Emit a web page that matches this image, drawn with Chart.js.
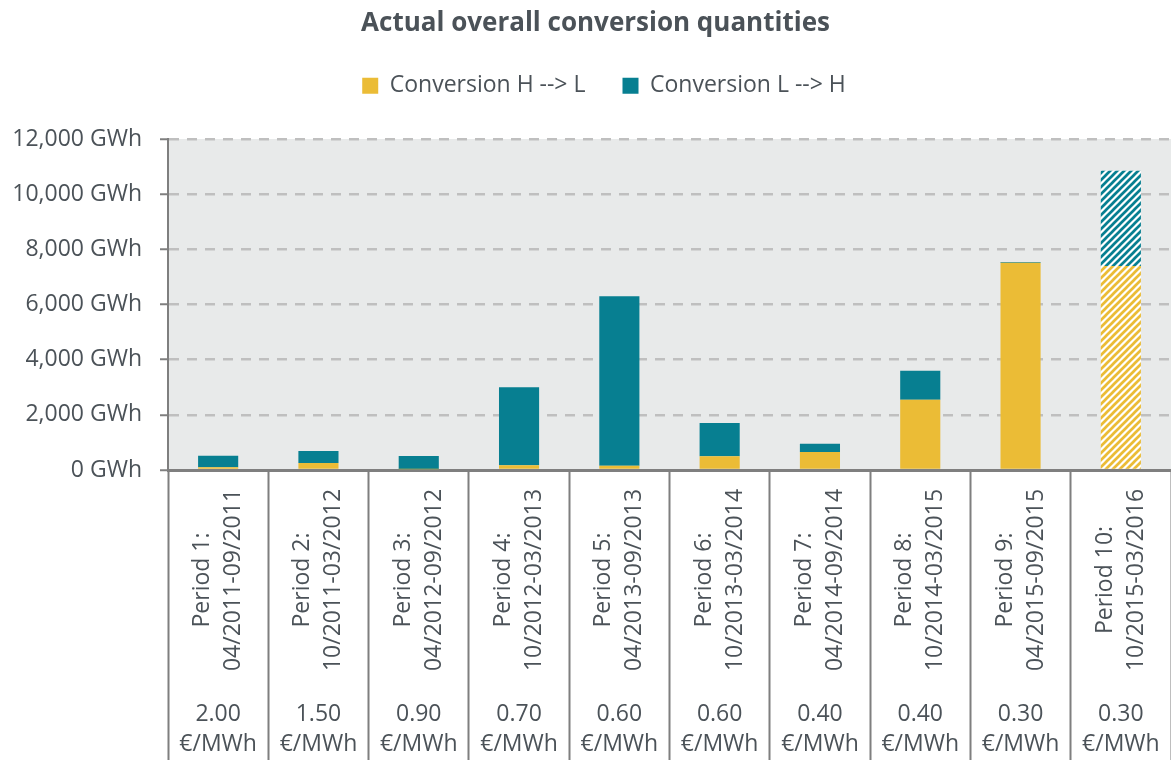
<!DOCTYPE html>
<html>
<head>
<meta charset="utf-8">
<script src="https://cdn.jsdelivr.net/npm/chart.js@4.4.1/dist/chart.umd.min.js"></script>
<style>
  html, body { margin: 0; padding: 0; background: #ffffff; }
  #wrap { width: 1171px; height: 760px; position: relative; }
</style>
</head>
<body>
<div id="wrap"><canvas id="c"></canvas></div>
<script>
// ---- data ----
const periods = ['Period 1:', 'Period 2:', 'Period 3:', 'Period 4:', 'Period 5:',
                 'Period 6:', 'Period 7:', 'Period 8:', 'Period 9:', 'Period 10:'];
const ranges = ['04/2011-09/2011', '10/2011-03/2012', '04/2012-09/2012', '10/2012-03/2013',
                '04/2013-09/2013', '10/2013-03/2014', '04/2014-09/2014', '10/2014-03/2015',
                '04/2015-09/2015', '10/2015-03/2016'];
const prices = ['2.00', '1.50', '0.90', '0.70', '0.60', '0.60', '0.40', '0.40', '0.30', '0.30'];
const priceUnit = '€/MWh';
const hToL = [100, 250, 30, 170, 150, 500, 650, 2550, 7510, 7400];   // Conversion H --> L (GWh)
const lToH = [420, 440, 480, 2830, 6150, 1200, 300, 1050, 30, 3450]; // Conversion L --> H (GWh)
const seriesNames = ['Conversion H --> L', 'Conversion L --> H'];
const yMin = 0, yMax = 12000, yStep = 2000, yUnit = 'GWh';
const forecastIndex = 9; // hatched (provisional) period
const chartTitle = 'Actual overall conversion quantities';

// ---- styles ----
const YEL = '#EBBC36', TEAL = '#077F91';
const TEXT = '#4B5258';
const AXIS = '#7F7F7F';
const FONT = '"Open Sans", "Noto Sans", sans-serif';
Chart.defaults.font.family = FONT;

const canvas = document.getElementById('c');
const ctx = canvas.getContext('2d');

function hatch(color) {
  const s = 7;
  const t = document.createElement('canvas');
  t.width = s; t.height = s;
  const g = t.getContext('2d');
  g.fillStyle = '#ffffff';
  g.fillRect(0, 0, s, s);
  g.strokeStyle = color;
  g.lineWidth = 2.7;
  g.beginPath();
  g.moveTo(0, s); g.lineTo(s, 0);
  g.moveTo(-1, 1); g.lineTo(1, -1);
  g.moveTo(s - 1, s + 1); g.lineTo(s + 1, s - 1);
  g.stroke();
  return ctx.createPattern(t, 'repeat');
}
const yelHatch = hatch(YEL);
const tealHatch = hatch(TEAL);

const plotBg = {
  id: 'plotBg',
  beforeDraw(chart) {
    const a = chart.chartArea, c = chart.ctx;
    c.save();
    c.fillStyle = '#E8EAEA';
    c.fillRect(a.left, a.top, a.right - a.left, a.bottom - a.top);
    c.restore();
  }
};

const xLabels = {
  id: 'xLabels',
  afterDraw(chart) {
    const xs = chart.scales.x, c = chart.ctx;
    c.save();
    c.fillStyle = TEXT;
    c.font = '23px ' + FONT;
    c.textAlign = 'center';
    c.textBaseline = 'middle';
    periods.forEach((p, i) => {
      const x = xs.getPixelForValue(i);
      c.save();
      c.translate(x, xs.top + 110);
      c.rotate(-Math.PI / 2);
      c.fillText(p, 0, -15.5);
      c.fillText(ranges[i], 0, 15.5);
      c.restore();
      c.fillText(prices[i], x, xs.top + 244);
      c.fillText(priceUnit, x, xs.top + 274);
    });
    c.restore();
  }
};

const headerCenter = {
  id: 'headerCenter',
  afterLayout(chart) {
    const l = chart.legend;
    const p = l.options.labels.padding / 2;
    l.left += p; l.right += p;
    const t = chart.titleBlock;
    if (t) { t.left += 10; t.right += 10; }
  }
};

new Chart(ctx, {
  type: 'bar',
  data: {
    labels: periods,
    datasets: [
      {
        label: seriesNames[0],
        data: hToL,
        backgroundColor: (c) => (c.type === 'data' && c.dataIndex === forecastIndex) ? yelHatch : YEL,
        borderWidth: 0,
        barPercentage: 0.4,
        categoryPercentage: 1.0
      },
      {
        label: seriesNames[1],
        data: lToH,
        backgroundColor: (c) => (c.type === 'data' && c.dataIndex === forecastIndex) ? tealHatch : TEAL,
        borderWidth: 0,
        barPercentage: 0.4,
        categoryPercentage: 1.0
      }
    ]
  },
  options: {
    responsive: true,
    maintainAspectRatio: false,
    animation: false,
    layout: { padding: 0 },
    plugins: {
      title: {
        display: true,
        text: chartTitle,
        color: TEXT,
        font: { size: 26, weight: 'bold', lineHeight: 0.8 },
        padding: { top: 13.4, bottom: 3 }
      },
      subtitle: {
        display: true,
        text: '',
        weight: 500,
        position: 'top',
        font: { size: 1, lineHeight: 1 },
        padding: { top: 0, bottom: 30.8 }
      },
      legend: {
        position: 'top',
        labels: {
          boxWidth: 16,
          boxHeight: 16,
          padding: 37,
          color: TEXT,
          font: { size: 23 }
        }
      },
      tooltip: { enabled: false }
    },
    scales: {
      x: {
        stacked: true,
        grid: {
          offset: true,
          drawOnChartArea: false,
          drawTicks: true,
          tickLength: 290,
          tickColor: AXIS,
          tickWidth: 2
        },
        border: { display: true, color: AXIS, width: 3 },
        ticks: { display: false },
        afterFit(s) { s.height = 290; }
      },
      y: {
        stacked: true,
        min: yMin,
        max: yMax,
        ticks: {
          stepSize: yStep,
          padding: 18,
          color: TEXT,
          font: { size: 23 },
          callback: (v) => Number(v).toLocaleString('en-US') + ' ' + yUnit
        },
        grid: {
          color: (c) => (c.tick && c.tick.value === 0) ? 'rgba(0,0,0,0)' : '#BFBFBF',
          lineWidth: 2.5,
          drawTicks: true,
          tickLength: 8,
          tickColor: AXIS,
          tickWidth: 2,
          tickBorderDash: []
        },
        border: { display: true, color: AXIS, width: 2, dash: [10, 8] },
        afterFit(s) { s.width = 168; }
      }
    }
  },
  plugins: [plotBg, xLabels, headerCenter]
});
</script>
</body>
</html>
